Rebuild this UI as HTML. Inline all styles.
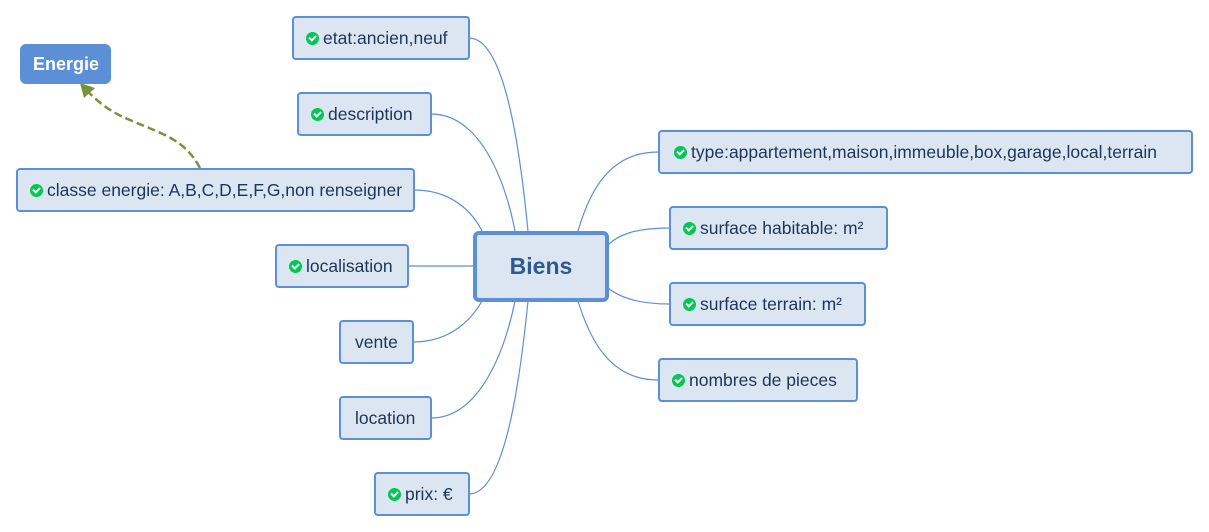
<!DOCTYPE html>
<html><head><meta charset="utf-8"><style>
body{margin:0;width:1209px;height:532px;background:#fff;position:relative;overflow:hidden;font-family:"Liberation Sans",sans-serif;}
.n{position:absolute;box-sizing:border-box;background:#dce6f2;border:2px solid #5b8fd6;border-radius:4px;color:#1f3557;font-size:17.5px;display:flex;align-items:center;padding-left:12px;white-space:nowrap;}
.c{display:inline-block;width:13px;height:13px;border-radius:50%;background:#00c853;margin-right:4px;position:relative;flex:none}
.c:after{content:"";position:absolute;left:3px;top:3px;width:5px;height:3px;border-left:2px solid #fff;border-bottom:2px solid #fff;transform:rotate(-45deg)}
</style></head><body>
<svg width="1209" height="532" style="position:absolute;left:0;top:0">
<g fill="none" stroke="#5b8fd6" stroke-width="1.2">
<path d="M469,38 C505,38 520,150 528,231"/>
<path d="M431,114 C480,114 505,180 515,231"/>
<path d="M414,190 C450,190 472,210 483,233"/>
<path d="M408,266 L473,266"/>
<path d="M413,342 C450,342 472,320 483,299"/>
<path d="M431,418 C480,418 505,350 515,301"/>
<path d="M469,494 C505,494 520,380 528,301"/>
<path d="M658,152 C610,152 590,190 578,231"/>
<path d="M669,228 C635,228 618,235 608,245"/>
<path d="M669,304 C635,304 618,296 608,288"/>
<path d="M658,380 C610,380 590,340 578,301"/>
</g>
<path d="M200,168 C185,140 165,135 130,120 C105,110 95,98 86,90" fill="none" stroke="#77923c" stroke-width="2.5" stroke-dasharray="8,4"/>
<polygon points="80,83 95,88 84,98" fill="#77923c"/>
</svg>
<div class="n" style="left:20px;top:44px;width:91px;height:40px;background:#5b8fd6;border:none;border-radius:6px;color:#fff;font-weight:bold;padding-left:13px;font-size:18px">Energie</div>
<div class="n" style="left:292px;top:16px;width:178px;height:44px"><span class="c"></span>etat:ancien,neuf</div>
<div class="n" style="left:297px;top:92px;width:135px;height:44px"><span class="c"></span>description</div>
<div class="n" style="left:16px;top:168px;width:399px;height:44px;font-size:17.5px"><span class="c"></span>classe energie: A,B,C,D,E,F,G,non renseigner</div>
<div class="n" style="left:275px;top:244px;width:134px;height:44px"><span class="c"></span>localisation</div>
<div class="n" style="left:339px;top:320px;width:75px;height:44px;padding-left:14px">vente</div>
<div class="n" style="left:339px;top:396px;width:93px;height:44px;padding-left:14px">location</div>
<div class="n" style="left:374px;top:472px;width:96px;height:44px"><span class="c"></span>prix: €</div>
<div class="n" style="left:473px;top:231px;width:136px;height:71px;border:4px solid #5b8fd6;border-radius:6px;justify-content:center;padding:0;font-size:23px;font-weight:bold;color:#2f5a8f">Biens</div>
<div class="n" style="left:658px;top:130px;width:535px;height:44px;padding-left:14px;font-size:17.5px"><span class="c"></span>type:appartement,maison,immeuble,box,garage,local,terrain</div>
<div class="n" style="left:669px;top:206px;width:219px;height:44px"><span class="c"></span>surface habitable: m²</div>
<div class="n" style="left:669px;top:282px;width:197px;height:44px"><span class="c"></span>surface terrain: m²</div>
<div class="n" style="left:658px;top:358px;width:200px;height:44px"><span class="c"></span>nombres de pieces</div>
</body></html>
